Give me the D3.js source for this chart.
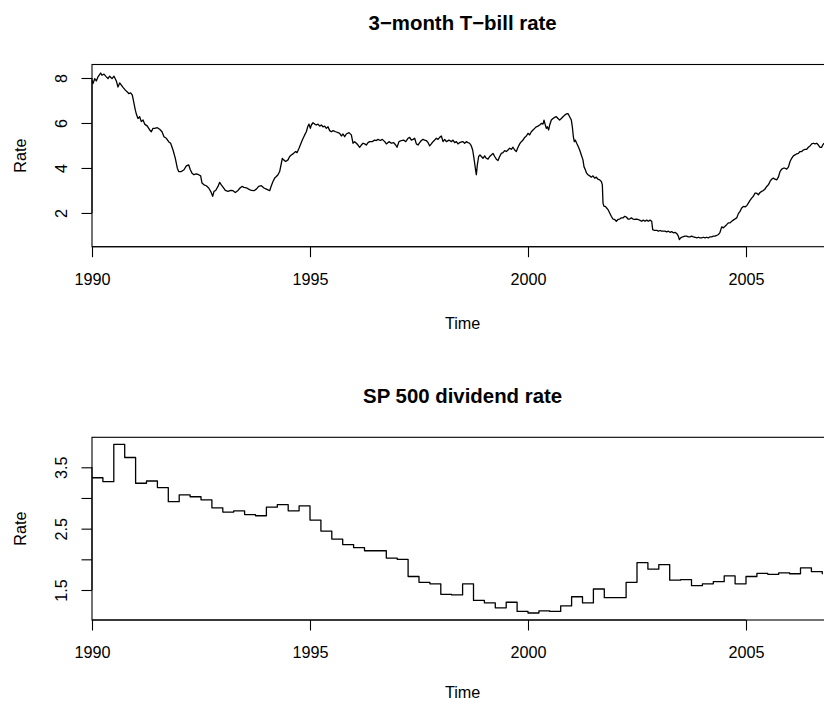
<!DOCTYPE html>
<html>
<head>
<meta charset="utf-8">
<script src="https://cdn.jsdelivr.net/npm/d3@7"></script>
<style>
  html, body { margin: 0; padding: 0; background: #fff; }
  svg { display: block; font-family: "Liberation Sans", Arial, Helvetica, sans-serif; }
</style>
</head>
<body>
<svg id="chart" width="824" height="704"></svg>
<script>
// 3-month T-bill rate, [decimal year, rate %]
const tbillSeries = [
  [1990.000,7.90],[1990.023,7.75],[1990.061,7.97],[1990.099,7.87],[1990.138,8.05],[1990.199,8.22],
  [1990.229,8.12],[1990.275,8.17],[1990.329,8.05],[1990.367,7.97],[1990.405,8.08],[1990.459,7.97],
  [1990.505,8.08],[1990.558,7.87],[1990.596,7.60],[1990.635,7.78],[1990.673,7.68],[1990.711,7.58],
  [1990.765,7.46],[1990.810,7.38],[1990.841,7.31],[1990.887,7.34],[1990.925,7.24],[1990.963,6.87],
  [1990.994,6.57],[1991.024,6.35],[1991.055,6.20],[1991.093,6.28],[1991.131,6.06],[1991.170,6.13],
  [1991.208,5.95],[1991.269,5.86],[1991.323,5.69],[1991.361,5.61],[1991.399,5.76],[1991.437,5.76],
  [1991.498,5.79],[1991.552,5.72],[1991.606,5.61],[1991.651,5.39],[1991.705,5.32],[1991.758,5.17],
  [1991.804,5.10],[1991.858,4.80],[1991.911,4.43],[1991.957,3.99],[1991.988,3.84],[1992.049,3.84],
  [1992.110,3.92],[1992.164,4.09],[1992.217,4.14],[1992.255,3.92],[1992.294,3.77],[1992.339,3.70],
  [1992.393,3.74],[1992.446,3.70],[1992.492,3.65],[1992.523,3.33],[1992.569,3.25],[1992.622,3.21],
  [1992.676,3.11],[1992.722,2.96],[1992.768,2.74],[1992.798,2.96],[1992.836,3.00],[1992.890,3.18],
  [1992.928,3.36],[1992.966,3.25],[1993.005,3.15],[1993.058,3.00],[1993.119,2.96],[1993.180,3.00],
  [1993.234,2.99],[1993.287,2.91],[1993.349,3.00],[1993.394,3.11],[1993.440,3.18],[1993.486,3.14],
  [1993.540,3.12],[1993.593,3.06],[1993.654,3.00],[1993.716,2.99],[1993.769,3.06],[1993.823,3.18],
  [1993.884,3.21],[1993.945,3.11],[1993.999,3.06],[1994.075,2.99],[1994.113,3.21],[1994.151,3.40],
  [1994.190,3.55],[1994.228,3.62],[1994.266,3.70],[1994.304,3.84],[1994.343,4.21],[1994.365,4.43],
  [1994.396,4.36],[1994.442,4.29],[1994.495,4.36],[1994.534,4.51],[1994.572,4.58],[1994.625,4.65],
  [1994.671,4.73],[1994.702,4.68],[1994.748,4.88],[1994.778,5.02],[1994.824,5.24],[1994.878,5.47],
  [1994.916,5.61],[1994.947,5.83],[1994.977,5.95],[1995.008,5.76],[1995.031,5.91],[1995.069,6.01],
  [1995.107,5.95],[1995.146,5.91],[1995.184,5.95],[1995.222,5.86],[1995.260,5.91],[1995.298,5.83],
  [1995.337,5.86],[1995.375,5.76],[1995.413,5.83],[1995.451,5.66],[1995.489,5.61],[1995.528,5.66],
  [1995.589,5.61],[1995.642,5.57],[1995.681,5.54],[1995.719,5.42],[1995.757,5.51],[1995.795,5.39],
  [1995.833,5.51],[1995.895,5.57],[1995.948,5.47],[1995.986,5.10],[1996.025,5.17],[1996.063,5.10],
  [1996.101,5.02],[1996.139,4.92],[1996.177,5.02],[1996.216,5.10],[1996.254,5.07],[1996.292,5.02],
  [1996.330,5.13],[1996.368,5.17],[1996.430,5.17],[1996.483,5.24],[1996.521,5.22],[1996.559,5.27],
  [1996.613,5.22],[1996.659,5.27],[1996.713,5.17],[1996.751,5.07],[1996.812,5.17],[1996.866,5.10],
  [1996.919,5.13],[1996.965,5.02],[1996.996,4.92],[1997.041,5.17],[1997.095,5.22],[1997.149,5.24],
  [1997.195,5.17],[1997.248,5.32],[1997.286,5.36],[1997.325,5.24],[1997.363,5.27],[1997.401,5.32],
  [1997.439,5.07],[1997.477,5.02],[1997.515,5.13],[1997.554,5.22],[1997.592,5.27],[1997.630,5.24],
  [1997.668,5.22],[1997.707,5.13],[1997.745,4.98],[1997.783,5.07],[1997.821,5.17],[1997.860,5.24],
  [1997.898,5.32],[1997.936,5.27],[1997.974,5.36],[1998.013,5.42],[1998.051,5.17],[1998.089,5.27],
  [1998.127,5.17],[1998.188,5.24],[1998.242,5.17],[1998.280,5.24],[1998.318,5.13],[1998.357,5.17],
  [1998.395,5.07],[1998.433,5.13],[1998.494,5.17],[1998.509,5.17],[1998.547,5.10],[1998.585,5.17],
  [1998.624,5.13],[1998.662,5.10],[1998.700,4.98],[1998.731,4.80],[1998.761,4.43],[1998.792,3.99],
  [1998.815,3.70],[1998.838,4.14],[1998.868,4.51],[1998.899,4.58],[1998.930,4.51],[1998.968,4.43],
  [1999.006,4.54],[1999.044,4.43],[1999.083,4.39],[1999.121,4.51],[1999.159,4.58],[1999.197,4.65],
  [1999.236,4.51],[1999.274,4.39],[1999.312,4.33],[1999.350,4.51],[1999.388,4.65],[1999.427,4.68],
  [1999.465,4.77],[1999.503,4.73],[1999.541,4.80],[1999.580,4.88],[1999.618,4.83],[1999.656,4.92],
  [1999.694,4.80],[1999.732,4.73],[1999.771,4.92],[1999.809,5.07],[1999.847,5.17],[1999.885,5.24],
  [1999.924,5.36],[1999.962,5.42],[2000.000,5.54],[2000.038,5.47],[2000.076,5.61],[2000.115,5.69],
  [2000.153,5.76],[2000.191,5.83],[2000.229,5.86],[2000.268,5.91],[2000.306,5.98],[2000.344,5.95],
  [2000.367,6.13],[2000.397,5.91],[2000.420,5.76],[2000.443,5.83],[2000.474,5.69],[2000.497,5.91],
  [2000.535,6.13],[2000.573,6.20],[2000.611,6.25],[2000.650,6.28],[2000.688,6.20],[2000.726,6.13],
  [2000.764,6.20],[2000.803,6.28],[2000.841,6.35],[2000.879,6.40],[2000.917,6.42],[2000.955,6.28],
  [2000.994,6.13],[2001.017,5.83],[2001.040,5.39],[2001.062,5.17],[2001.085,5.24],[2001.116,5.10],
  [2001.147,4.98],[2001.185,4.80],[2001.223,4.58],[2001.261,4.36],[2001.284,4.06],[2001.315,3.92],
  [2001.345,3.77],[2001.376,3.70],[2001.414,3.65],[2001.452,3.59],[2001.491,3.65],[2001.529,3.55],
  [2001.567,3.59],[2001.605,3.50],[2001.644,3.47],[2001.682,3.40],[2001.705,3.25],[2001.720,2.44],
  [2001.743,2.29],[2001.773,2.29],[2001.804,2.22],[2001.835,2.15],[2001.873,2.00],[2001.911,1.85],
  [2001.949,1.73],[2001.987,1.71],[2002.026,1.63],[2002.064,1.71],[2002.102,1.73],[2002.140,1.78],
  [2002.179,1.78],[2002.217,1.85],[2002.255,1.82],[2002.293,1.73],[2002.331,1.73],[2002.370,1.78],
  [2002.408,1.73],[2002.446,1.71],[2002.484,1.73],[2002.523,1.71],[2002.561,1.68],[2002.607,1.63],
  [2002.645,1.68],[2002.684,1.63],[2002.722,1.68],[2002.760,1.63],[2002.798,1.68],[2002.837,1.63],
  [2002.860,1.26],[2002.890,1.23],[2002.951,1.23],[2002.989,1.19],[2003.028,1.22],[2003.066,1.19],
  [2003.104,1.19],[2003.142,1.19],[2003.181,1.16],[2003.219,1.19],[2003.257,1.14],[2003.295,1.17],
  [2003.334,1.12],[2003.372,1.14],[2003.410,1.09],[2003.448,0.97],[2003.471,0.82],[2003.502,0.89],
  [2003.548,0.94],[2003.601,0.97],[2003.639,0.97],[2003.678,0.94],[2003.716,0.94],[2003.754,0.97],
  [2003.792,0.94],[2003.831,0.92],[2003.869,0.89],[2003.907,0.92],[2003.945,0.89],[2003.983,0.89],
  [2004.022,0.92],[2004.060,0.89],[2004.098,0.92],[2004.136,0.89],[2004.175,0.94],[2004.213,0.94],
  [2004.251,0.97],[2004.289,0.97],[2004.328,1.00],[2004.366,1.04],[2004.404,1.14],[2004.442,1.38],
  [2004.481,1.34],[2004.519,1.41],[2004.557,1.48],[2004.595,1.56],[2004.633,1.56],[2004.672,1.63],
  [2004.710,1.68],[2004.748,1.73],[2004.786,1.78],[2004.825,1.97],[2004.863,2.07],[2004.901,2.22],
  [2004.939,2.29],[2004.978,2.27],[2005.016,2.32],[2005.054,2.44],[2005.092,2.56],[2005.130,2.66],
  [2005.169,2.74],[2005.207,2.88],[2005.245,2.88],[2005.283,2.81],[2005.322,2.91],[2005.360,2.96],
  [2005.398,3.00],[2005.436,3.06],[2005.475,3.18],[2005.513,3.25],[2005.551,3.40],[2005.589,3.50],
  [2005.627,3.55],[2005.666,3.50],[2005.704,3.47],[2005.742,3.59],[2005.780,3.84],[2005.819,3.95],
  [2005.857,3.99],[2005.895,3.99],[2005.933,3.95],[2005.972,4.04],[2006.010,4.29],[2006.048,4.43],
  [2006.086,4.54],[2006.124,4.58],[2006.163,4.63],[2006.201,4.65],[2006.239,4.73],[2006.277,4.73],
  [2006.316,4.80],[2006.354,4.83],[2006.392,4.83],[2006.430,4.92],[2006.469,4.98],[2006.507,5.07],
  [2006.545,5.10],[2006.583,5.07],[2006.621,5.10],[2006.660,5.02],[2006.698,4.92],[2006.736,4.92],
  [2006.759,5.02],[2006.789,5.10]
];

// S&P 500 dividend rate, quarterly from 1990 Q1
const dividendStart = 1990;
const dividendFrequency = 4;
const dividendRate = [
  3.33, 3.265, 3.875, 3.66,
  3.24, 3.277, 3.17, 2.94,
  3.05, 3.02, 2.97, 2.84,
  2.77, 2.79, 2.73, 2.71,
  2.85, 2.89, 2.79, 2.87,
  2.64, 2.46, 2.33, 2.24,
  2.19, 2.14, 2.14, 2.02,
  2.00, 1.72, 1.625, 1.60,
  1.43, 1.42, 1.60, 1.33,
  1.29, 1.21, 1.30, 1.15,
  1.125, 1.16, 1.15, 1.24,
  1.39, 1.29, 1.516, 1.375,
  1.375, 1.625, 1.945, 1.84,
  1.915, 1.66, 1.67, 1.57,
  1.60, 1.635, 1.73, 1.60,
  1.72, 1.77, 1.755, 1.78,
  1.765, 1.86, 1.80, 1.755
];

const yearDomain = [1990, 2007];
const yearTicks = [1990, 1995, 2000, 2005];
const tbillTicks = [2, 4, 6, 8];
const tbillTickLabels = ["2", "4", "6", "8"];
const dividendTicks = [1.5, 2, 2.5, 3, 3.5];
const dividendTickLabels = ["1.5", "", "2.5", "", "3.5"];

const dividendSeries = dividendRate.map((v, i) => [dividendStart + i / dividendFrequency, v]);

const svg = d3.select("#chart");
const plotLeft = 92, plotRight = 833.2;
const axisFont = 16.2, titleFont = 20.4;

const panels = [
  { title: "3\u2212month T\u2212bill rate", data: tbillSeries, yDomain: [0.5, 8.6],
    top: 64.5, bottom: 246.7, timeGap: 82,
    yTicks: tbillTicks, yLabels: tbillTickLabels, curve: d3.curveLinear },
  { title: "SP 500 dividend rate", data: dividendSeries, yDomain: [1.011, 3.989],
    top: 437.3, bottom: 620, timeGap: 78,
    yTicks: dividendTicks, yLabels: dividendTickLabels, curve: d3.curveStepAfter }
];

const defs = svg.append("defs");

panels.forEach((p, k) => {
  const x = d3.scaleLinear().domain(yearDomain).range([plotLeft, plotRight]);
  const y = d3.scaleLinear().domain(p.yDomain).range([p.bottom, p.top]);
  const g = svg.append("g");
  const midX = (plotLeft + plotRight) / 2;

  defs.append("clipPath").attr("id", "plot" + k)
    .append("rect")
    .attr("x", plotLeft).attr("y", p.top)
    .attr("width", plotRight - plotLeft).attr("height", p.bottom - p.top);

  // series
  g.append("path")
    .datum(p.data)
    .attr("clip-path", `url(#plot${k})`)
    .attr("fill", "none")
    .attr("stroke", "#000")
    .attr("stroke-width", 1.3)
    .attr("stroke-linejoin", "round")
    .attr("d", d3.line().x(d => x(d[0])).y(d => y(d[1])).curve(p.curve));

  // frame
  g.append("rect")
    .attr("x", plotLeft).attr("y", p.top)
    .attr("width", plotRight - plotLeft).attr("height", p.bottom - p.top)
    .attr("fill", "none").attr("stroke", "#000").attr("stroke-width", 1.1);

  // bottom axis
  const gx = g.append("g")
    .attr("transform", `translate(0,${p.bottom})`)
    .call(d3.axisBottom(x).tickValues(yearTicks).tickFormat(d3.format("d"))
      .tickSizeInner(10.5).tickSizeOuter(0));
  gx.select(".domain").remove();
  gx.attr("font-size", null).attr("font-family", null);
  gx.selectAll("line").attr("stroke", "#000").attr("stroke-width", 1.1);
  gx.selectAll("text")
    .attr("y", 38.3).attr("dy", null)
    .attr("fill", "#000").style("font-size", axisFont + "px");
  gx.append("line")
    .attr("x1", x(yearTicks[0])).attr("x2", x(yearTicks[yearTicks.length - 1]))
    .attr("stroke", "#000").attr("stroke-width", 1.1);

  // left axis with labels turned parallel to the axis
  const gy = g.append("g")
    .attr("transform", `translate(${plotLeft},0)`)
    .call(d3.axisLeft(y).tickValues(p.yTicks)
      .tickFormat((d, i) => p.yLabels[i])
      .tickSizeInner(10.5).tickSizeOuter(0));
  gy.select(".domain").remove();
  gy.attr("font-size", null).attr("font-family", null);
  gy.selectAll("line").attr("stroke", "#000").attr("stroke-width", 1.1);
  gy.selectAll("text")
    .attr("x", null).attr("dy", null)
    .attr("text-anchor", "middle")
    .attr("transform", "translate(-25.2,0) rotate(-90)")
    .attr("fill", "#000").style("font-size", axisFont + "px");
  gy.append("line")
    .attr("y1", y(p.yTicks[0])).attr("y2", y(p.yTicks[p.yTicks.length - 1]))
    .attr("stroke", "#000").attr("stroke-width", 1.1);

  // titles
  g.append("text")
    .attr("x", midX).attr("y", p.top - 34.3)
    .attr("text-anchor", "middle")
    .style("font-size", titleFont + "px").style("font-weight", "bold")
    .text(p.title);

  g.append("text")
    .attr("x", midX).attr("y", p.bottom + p.timeGap)
    .attr("text-anchor", "middle")
    .style("font-size", axisFont + "px")
    .text("Time");

  g.append("text")
    .attr("transform", `translate(26,${(p.top + p.bottom) / 2}) rotate(-90)`)
    .attr("text-anchor", "middle")
    .style("font-size", axisFont + "px")
    .text("Rate");
});
</script>
</body>
</html>
